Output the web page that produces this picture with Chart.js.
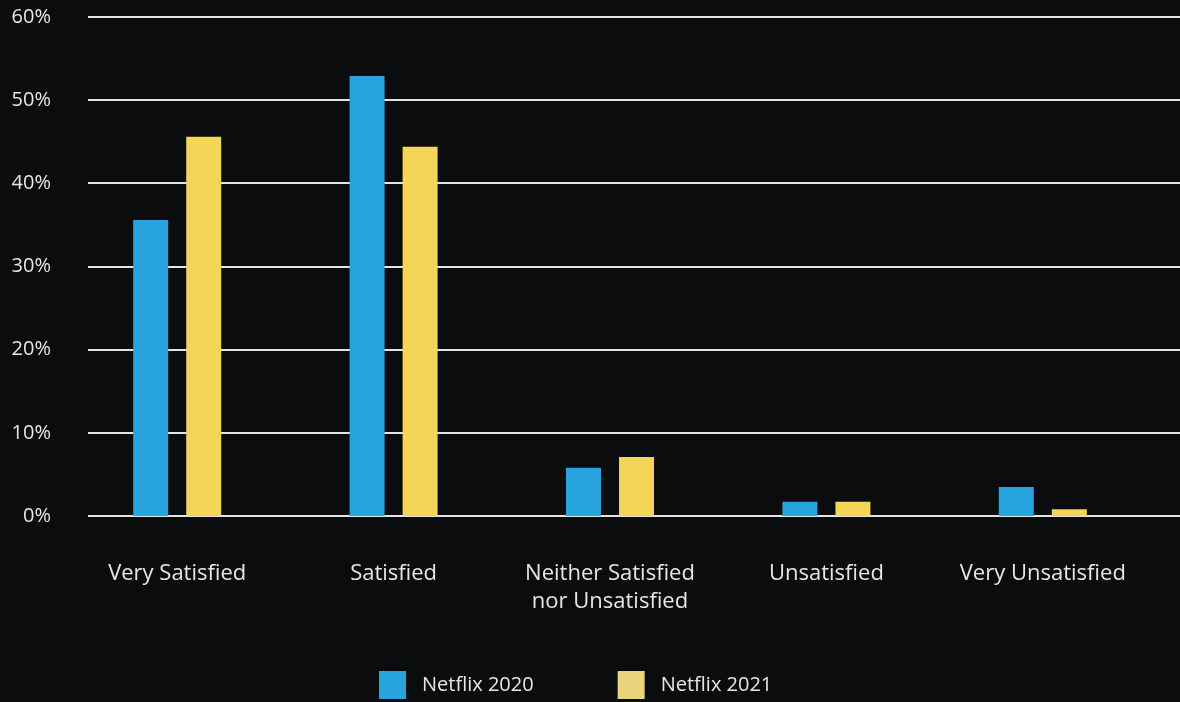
<!DOCTYPE html>
<html>
<head>
<meta charset="utf-8">
<script src="https://cdn.jsdelivr.net/npm/chart.js@4"></script>
<style>
  html, body { margin: 0; padding: 0; background: #0b0c0d; }
  #wrap { width: 1180px; height: 702px; }
</style>
</head>
<body>
<div id="wrap"><canvas id="chart" width="1180" height="702"></canvas></div>
<script>
const categories = [
  "Very Satisfied",
  "Satisfied",
  ["Neither Satisfied", "nor Unsatisfied"],
  "Unsatisfied",
  "Very Unsatisfied"
];
const netflix2020 = [35.6, 52.9, 5.8, 1.7, 3.5];
const netflix2021 = [45.6, 44.4, 7.1, 1.7, 0.8];
const seriesNames = ["Netflix 2020", "Netflix 2021"];
const barColors = ["#27a3de", "#f3d558"];
const legendColors = ["#27a3de", "#ebd47b"];
const yMax = 60;
const yStep = 10;

const FONT = '"Open Sans", "DejaVu Sans", sans-serif';
const TEXT = "#e6e6e6";

// horizontal rules behind the bars, starting a little right of the tick labels
const gridLines = {
  id: "gridLines",
  beforeDatasetsDraw(chart) {
    const { ctx, scales: { y } } = chart;
    ctx.save();
    ctx.strokeStyle = "#e4e4e4";
    ctx.lineWidth = 2;
    y.ticks.forEach(t => {
      const py = Math.round(y.getPixelForValue(t.value));
      ctx.beginPath();
      ctx.moveTo(88, py);
      ctx.lineTo(chart.width, py);
      ctx.stroke();
    });
    ctx.restore();
  }
};

// legend row along the bottom edge
const legendRow = {
  id: "legendRow",
  afterDraw(chart) {
    const { ctx } = chart;
    const boxW = 27, boxH = 28, gap = 16, spacing = 84, top = 671;
    ctx.save();
    ctx.font = "20px " + FONT;
    ctx.textBaseline = "middle";
    ctx.textAlign = "left";
    const items = chart.data.datasets.map((ds, i) => ({
      text: ds.label,
      color: legendColors[i],
      w: boxW + gap + ctx.measureText(ds.label).width
    }));
    const total = items.reduce((s, it) => s + it.w, 0) + spacing * (items.length - 1);
    let x = Math.round(576 - total / 2);
    items.forEach(it => {
      ctx.fillStyle = it.color;
      ctx.fillRect(x, top, boxW, boxH);
      ctx.fillStyle = TEXT;
      ctx.fillText(it.text, x + boxW + gap, top + boxH / 2);
      x += it.w + spacing;
    });
    ctx.restore();
  }
};

new Chart(document.getElementById("chart"), {
  type: "bar",
  data: {
    labels: categories,
    datasets: [
      { label: seriesNames[0], data: netflix2020, backgroundColor: barColors[0] },
      { label: seriesNames[1], data: netflix2021, backgroundColor: barColors[1] }
    ]
  },
  options: {
    responsive: false,
    animation: false,
    layout: { padding: { top: 17, right: 29, left: 0, bottom: 0 } },
    datasets: {
      bar: { categoryPercentage: 0.49, barPercentage: 0.66, borderWidth: 0 }
    },
    plugins: {
      legend: { display: false },
      tooltip: { enabled: false }
    },
    scales: {
      x: {
        grid: { display: false, drawTicks: false },
        border: { display: false },
        ticks: {
          color: TEXT,
          padding: 44,
          maxRotation: 0,
          autoSkip: false,
          font: { family: FONT, size: 22, lineHeight: 1.27 }
        },
        afterFit(s) {
          s.height = 186;
          s.paddingLeft = 0;
          s.paddingRight = 0;
        }
      },
      y: {
        min: 0,
        max: yMax,
        grid: { display: false, drawTicks: false },
        border: { display: false },
        ticks: {
          stepSize: yStep,
          color: TEXT,
          padding: 18,
          font: { family: FONT, size: 20 },
          callback: v => v + "%"
        },
        afterFit(s) {
          s.width = 69;
          s.paddingTop = 0;
          s.paddingBottom = 0;
        }
      }
    }
  },
  plugins: [gridLines, legendRow]
});
</script>
</body>
</html>
